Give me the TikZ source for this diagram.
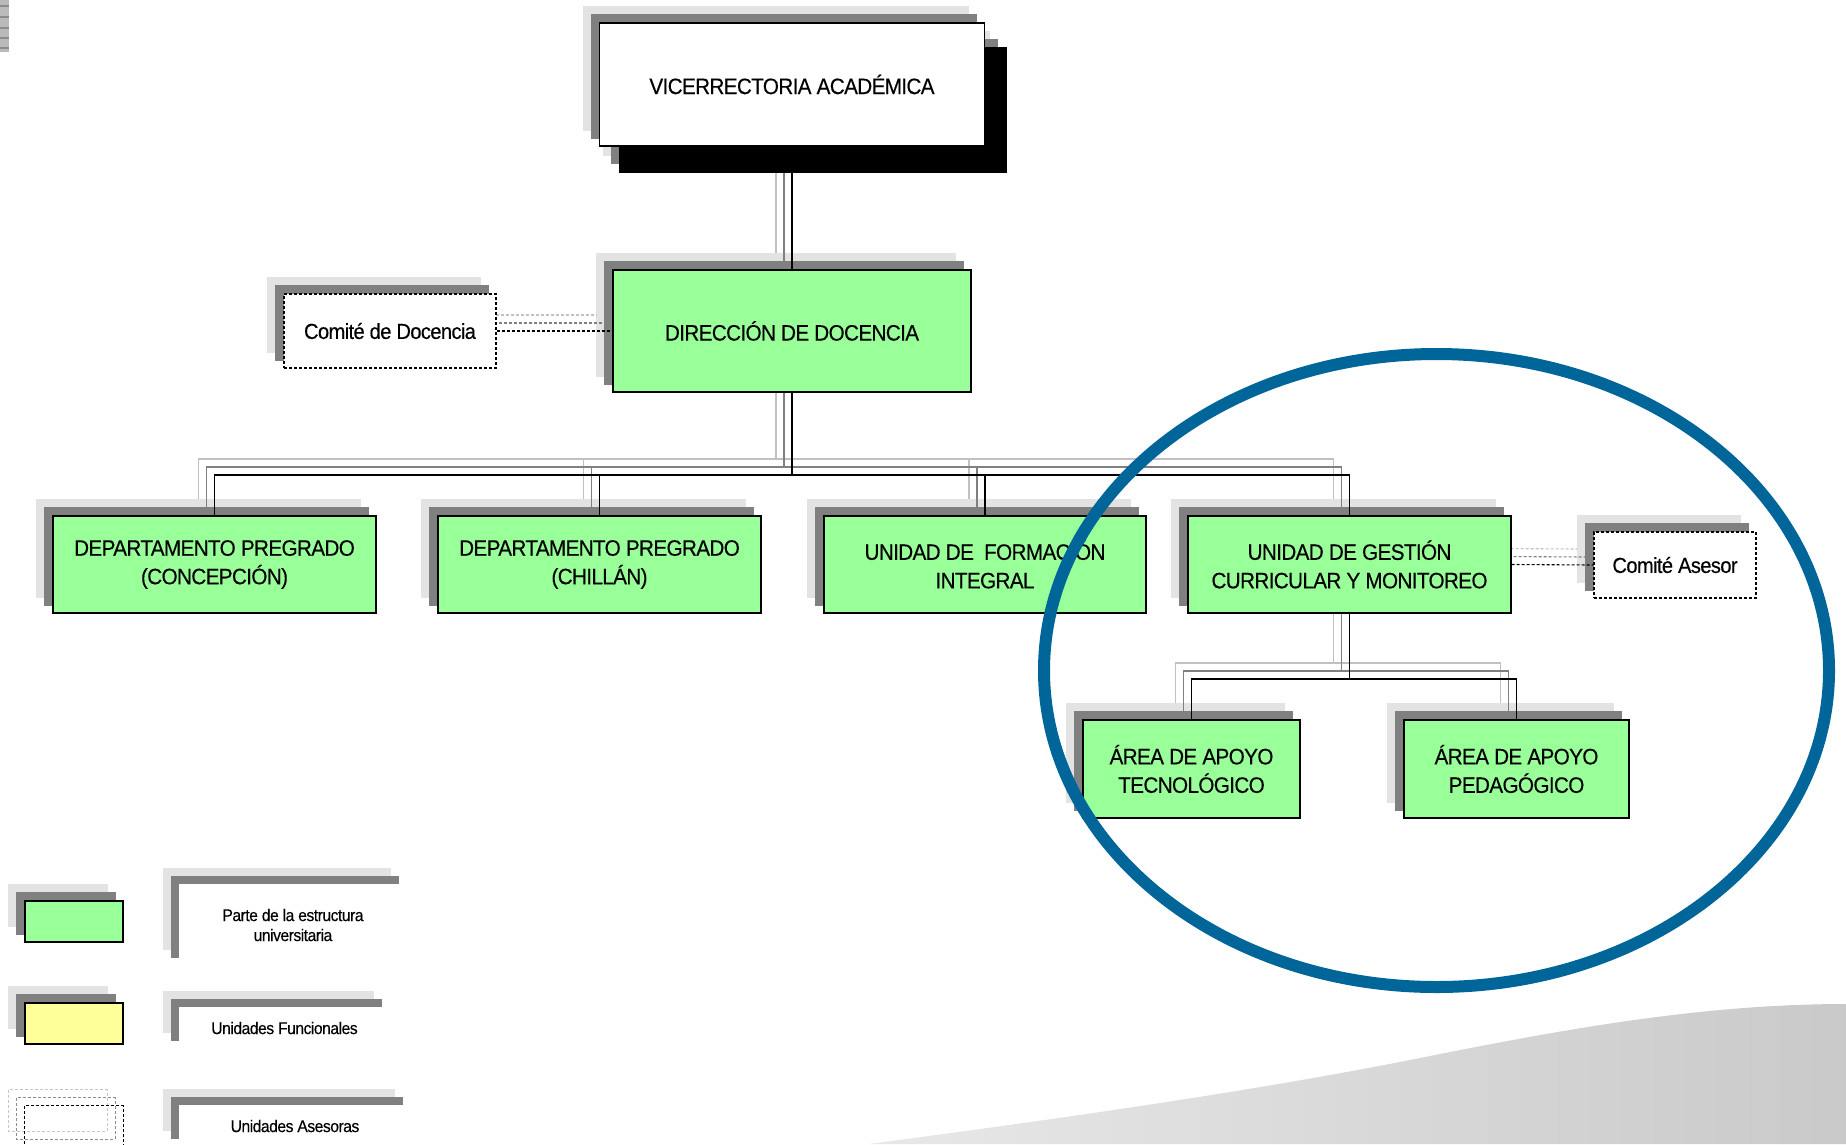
\documentclass[tikz,border=0pt]{standalone}
\usepackage{fontspec}
\setmainfont{Liberation Sans}[FakeStretch=0.93,LetterSpace=-3,FakeBold=0.25]
\definecolor{ugreen}{HTML}{99FF99}
\definecolor{uyellow}{HTML}{FFFF99}
\definecolor{lgr}{HTML}{E3E3E3}
\definecolor{dgr}{HTML}{808080}
\definecolor{eblue}{HTML}{006699}
\pgfdeclarelayer{bg}\pgfdeclarelayer{sA}\pgfdeclarelayer{sB}\pgfdeclarelayer{sC}\pgfdeclarelayer{sD}
\pgfsetlayers{bg,sA,sB,sC,sD,main}
\tikzset{
 sa/.style={xshift=-16pt,yshift=16pt},
 sb/.style={xshift=-8pt,yshift=8pt},
 sz/.style 2 args={minimum width=#1pt,minimum height=#2pt},
 unitbox/.style={draw=black,line width=1.2pt,fill=ugreen,inner sep=0pt,align=center,
   font=\fontsize{22.3}{28.5}\selectfont},
 advbox/.style={draw=black,line width=1.1pt,dash pattern=on 3pt off 2pt,fill=white,inner sep=0pt,
   align=center,font=\fontsize{21.7}{26}\selectfont},
 legtext/.style={fill=white,inner sep=0pt,align=center,font=\fontsize{16.9}{20}\selectfont},
 cline/.style={line width=1.2pt},
 dline/.style={line width=1.1pt,dash pattern=on 3pt off 2pt},
}
\newcommand\boxshade[1]{%
 \begin{pgfonlayer}{sA}\fill[lgr] ([sa]#1.north west) rectangle ([sa]#1.south east);\end{pgfonlayer}%
 \begin{pgfonlayer}{sB}\fill[dgr] ([sb]#1.north west) rectangle ([sb]#1.south east);\end{pgfonlayer}}
\newcommand\orgline[3]{%
 \begin{pgfonlayer}{sA}\draw[cline,lgr!85!black] ([sa]#1) -- ([sa]#2) -| ([sa]#3);\end{pgfonlayer}%
 \begin{pgfonlayer}{sB}\draw[cline,dgr] ([sb]#1) -- ([sb]#2) -| ([sb]#3);\end{pgfonlayer}%
 \begin{pgfonlayer}{sC}\draw[cline,black] (#1) -- (#2) -| (#3);\end{pgfonlayer}}
\newcommand\advline[2]{%
 \begin{pgfonlayer}{sA}\draw[dline,lgr!85!black] ([sa]#1) -- ([sa]#2);\end{pgfonlayer}%
 \begin{pgfonlayer}{sB}\draw[dline,dgr] ([sb]#1) -- ([sb]#2);\end{pgfonlayer}%
 \begin{pgfonlayer}{sC}\draw[dline,black] (#1) -- (#2);\end{pgfonlayer}}
\begin{document}
\begin{tikzpicture}[x=1pt,y=-1pt]
\useasboundingbox (0,0) rectangle (1846,1144);
% background decoration
\begin{pgfonlayer}{bg}
\fill[white] (0,0) rectangle (1846,1144);
\shade[left color=black!9,right color=black!21]
  (869,1144) .. controls (1050,1120) and (1250,1092) .. (1420,1058)
  .. controls (1560,1030) and (1700,1004) .. (1846,1004) -- (1846,1144) -- cycle;
\fill[black!27] (0,0) rectangle (9,52);
\foreach \yy in {6,17,28,38,48} \draw[black!45,line width=1.2pt] (0,\yy) -- (9,\yy);
\end{pgfonlayer}
% units
\node[unitbox,fill=white,sz={385}{123}] (vice) at (792,84.5) {VICERRECTORIA ACADÉMICA};
\node[unitbox,sz={358}{122}] (dir) at (792,331) {DIRECCIÓN DE DOCENCIA};
\node[advbox,sz={212}{74}] (cdoc) at (390,331) {Comité de Docencia};
\node[unitbox,sz={323}{97}] (conc) at (214.5,564.5) {DEPARTAMENTO PREGRADO\\(CONCEPCIÓN)};
\node[unitbox,sz={323}{97}] (chil) at (599.5,564.5) {DEPARTAMENTO PREGRADO\\(CHILLÁN)};
\node[unitbox,sz={322}{97}] (form) at (985,564.5) {UNIDAD DE \ FORMACIÓN\\INTEGRAL};
\node[unitbox,sz={323}{97}] (gest) at (1349.5,564.5) {UNIDAD DE GESTIÓN\\CURRICULAR Y MONITOREO};
\node[advbox,sz={162}{66}] (case) at (1675,565) {Comité Asesor};
\node[unitbox,sz={217}{98}] (tecn) at (1191.5,769) {ÁREA DE APOYO\\TECNOLÓGICO};
\node[unitbox,sz={225}{98}] (peda) at (1516.5,769) {ÁREA DE APOYO\\PEDAGÓGICO};
% legend
\node[unitbox,sz={98}{41}] (lg1) at (74,921.5) {};
\node[unitbox,fill=uyellow,sz={98}{41}] (lg2) at (74,1023.5) {};
\node[inner sep=0pt,sz={98}{41}] (lg3) at (74,1126.5) {};
\node[legtext,sz={228}{82}] (lt1) at (293,925) {Parte de la estructura\\universitaria};
\node[legtext,sz={211}{42}] (lt2) at (284.5,1028) {Unidades Funcionales};
\node[legtext,sz={232}{42}] (lt3) at (295,1126) {Unidades Asesoras};
% shadows
\foreach \n in {vice,dir,cdoc,conc,chil,form,gest,case,tecn,peda,lg1,lg2,lt1,lt2,lt3}{\boxshade{\n}}
\begin{pgfonlayer}{sD}
\fill[lgr] ([shift={(4,9)}]vice.north west) rectangle ([shift={(5,9)}]vice.south east);
\fill[dgr] ([shift={(12,17)}]vice.north west) rectangle ([shift={(13,17)}]vice.south east);
\fill[black] ([shift={(20,25)}]vice.north west) rectangle ([shift={(22,26)}]vice.south east);
\end{pgfonlayer}
% legend dashed boxes
\draw[dline,black!22] ([sa]lg3.north west) rectangle ([sa]lg3.south east);
\draw[dline,black!45] ([sb]lg3.north west) rectangle ([sb]lg3.south east);
\draw[dline,black] (lg3.north west) rectangle (lg3.south east);
% connectors
\coordinate (bus1) at (792,475);
\coordinate (bus2) at (1349.5,679);
\orgline{vice.south}{dir.north}{dir.north}
\foreach \c in {conc,chil,form,gest}{\orgline{dir.south}{bus1}{\c.north}}
\foreach \c in {tecn,peda}{\orgline{gest.south}{bus2}{\c.north}}
\advline{cdoc.east}{dir.west}
\advline{gest.east}{case.west}
% highlight ellipse
\draw[eblue,line width=12pt] (1436.5,670.5) ellipse [x radius=392.5pt,y radius=316.5pt];
\end{tikzpicture}
\end{document}
